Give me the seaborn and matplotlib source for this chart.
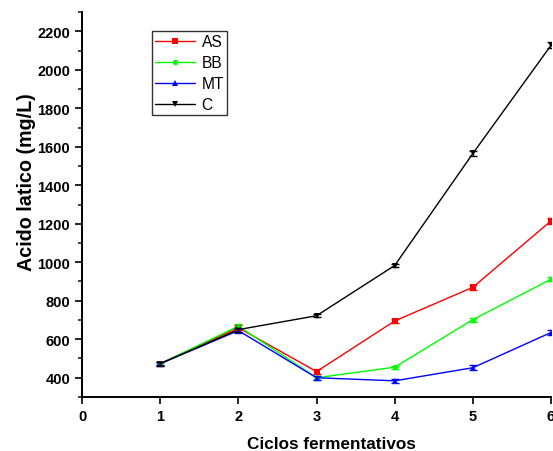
import matplotlib
matplotlib.use('Agg')
import matplotlib.pyplot as plt
import pandas as pd
import seaborn as sns
from matplotlib.ticker import MultipleLocator

# Data
ciclos = [1, 2, 3, 4, 5, 6]
series = ['AS', 'BB', 'MT', 'C']
as_vals = [473, 660, 432, 695, 870, 1215]
bb_vals = [473, 668, 400, 455, 702, 912]
mt_vals = [473, 645, 400, 384, 452, 635]
c_vals = [473, 650, 722, 983, 1565, 2127]
as_err = [10, 12, 12, 12, 14, 16]
bb_err = [8, 12, 10, 8, 10, 12]
mt_err = [8, 10, 10, 10, 12, 12]
c_err = [10, 10, 8, 10, 12, 16]

colors = {'AS': '#ff0000', 'BB': '#00ff00', 'MT': '#0000ff', 'C': '#000000'}
markers = {'AS': 's', 'BB': 'o', 'MT': '^', 'C': 'v'}

df = pd.DataFrame({
    'Ciclo': ciclos * 4,
    'Acido': as_vals + bb_vals + mt_vals + c_vals,
    'Erro': as_err + bb_err + mt_err + c_err,
    'Serie': [s for s in series for _ in ciclos],
})

sns.set_style('ticks')
plt.rcParams['font.family'] = ['Liberation Sans', 'DejaVu Sans']
plt.rcParams['text.color'] = 'black'
plt.rcParams['axes.labelcolor'] = 'black'

fig = plt.figure(figsize=(5.53, 4.52), dpi=100)
ax = fig.add_axes([0.1483, 0.1195, 0.8481, 0.8517])

sns.lineplot(data=df, x='Ciclo', y='Acido', hue='Serie', style='Serie',
             palette=colors, markers=markers, dashes=False, linewidth=1,
             markersize=4, markeredgewidth=0, ax=ax)

for s in series:
    sub = df[df['Serie'] == s]
    ax.errorbar(sub['Ciclo'], sub['Acido'], yerr=sub['Erro'], fmt='none',
                ecolor=colors[s], elinewidth=1, capsize=3, capthick=1)

ax.set_xlim(0, 6)
ax.set_ylim(300, 2300)
ax.set_xticks(range(0, 7))
ax.set_yticks(range(400, 2201, 200))
ax.yaxis.set_minor_locator(MultipleLocator(100))
ax.tick_params(axis='both', which='major', direction='out', length=5, width=1.2,
               labelsize=10.5, colors='black')
ax.tick_params(axis='y', which='minor', direction='out', length=3, width=1.2)
for lbl in ax.get_xticklabels() + ax.get_yticklabels():
    lbl.set_fontweight('bold')
for sp in ['left', 'bottom']:
    ax.spines[sp].set_linewidth(1.4)
    ax.spines[sp].set_color('black')
sns.despine(ax=ax)

ax.set_xlabel('Ciclos fermentativos', fontsize=12.3, fontweight='bold')
ax.set_ylabel('Acido latico (mg/L)', fontsize=14.2, fontweight='bold')
ax.xaxis.set_label_coords(0.531, -0.101)
ax.yaxis.set_label_coords(-0.098, 0.561)

leg = ax.legend(loc='upper left', bbox_to_anchor=(0.149, 0.95), fontsize=11.2,
                frameon=True, fancybox=False, edgecolor='black', handlelength=2.6,
                borderpad=0.2, labelspacing=0.38, handletextpad=0.4,
                borderaxespad=0)
leg.get_frame().set_linewidth(1.0)

fig.savefig('out.png', dpi=100)
